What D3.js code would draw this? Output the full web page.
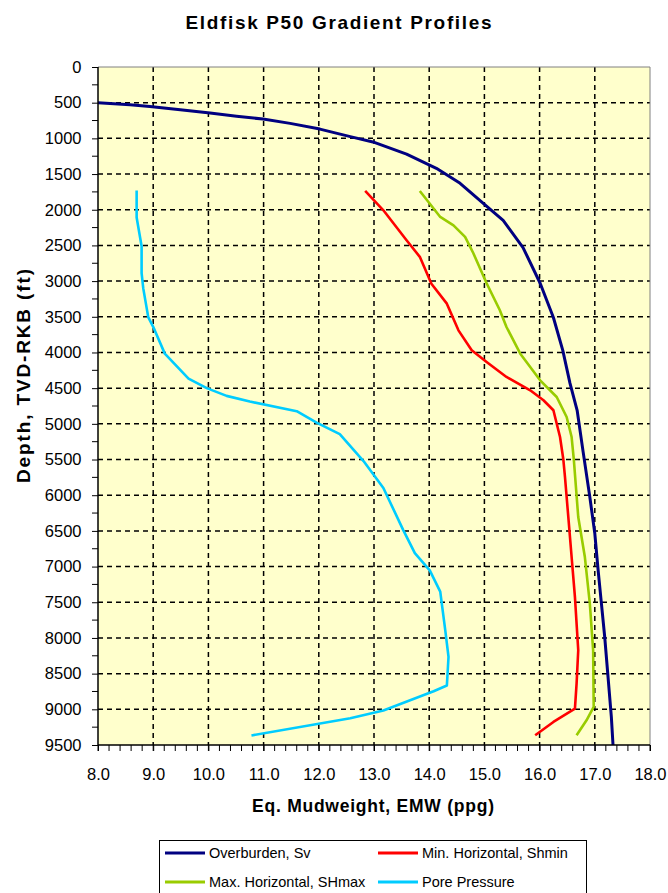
<!DOCTYPE html>
<html><head><meta charset="utf-8">
<script src="https://cdn.jsdelivr.net/npm/d3@7/dist/d3.min.js"></script>
<style>body{margin:0;background:#fff;}svg text{font-family:Arial,"Liberation Sans",sans-serif;}</style>
</head><body>
<svg id="c" width="668" height="893"></svg>
<script>
const title = "Eldfisk P50 Gradient Profiles";
const xTitle = "Eq. Mudweight, EMW (ppg)";
const yTitle = "Depth, TVD-RKB (ft)";
const xTicks = [8,9,10,11,12,13,14,15,16,17,18];
const yTicks = d3.range(0, 9501, 500);
const seriesNames = ["Overburden, Sv","Min. Horizontal, Shmin","Max. Horizontal, SHmax","Pore Pressure"];
const seriesColors = ["#000080","#FF0000","#99CC00","#00CCFF"];
// [EMW ppg, depth ft]
const overburden = [[8.0,500],[8.58,530],[8.94,555],[9.49,600],[10.03,645],[10.51,690],[10.99,730],[11.48,790],[12.02,870],[12.57,975],[12.98,1050],[13.59,1220],[14.13,1420],[14.56,1630],[14.98,1910],[15.34,2150],[15.70,2530],[16.01,3030],[16.25,3510],[16.42,3970],[16.55,4430],[16.68,4810],[16.79,5400],[16.91,6025],[17.00,6535],[17.06,7050],[17.12,7520],[17.18,7990],[17.24,8550],[17.30,9110],[17.33,9500]];
const shmin = [[12.84,1737],[13.17,2008],[13.59,2428],[13.83,2660],[14.04,3036],[14.32,3316],[14.53,3690],[14.77,3970],[15.04,4133],[15.40,4343],[15.83,4530],[16.07,4670],[16.25,4810],[16.37,5185],[16.43,5500],[16.46,5745],[16.52,6305],[16.58,6866],[16.64,7426],[16.70,8173],[16.67,8640],[16.64,8990],[16.25,9177],[15.92,9364]];
const shmax = [[13.83,1737],[14.20,2101],[14.44,2218],[14.65,2381],[14.80,2610],[15.04,3030],[15.28,3409],[15.40,3643],[15.65,4017],[16.01,4390],[16.31,4624],[16.49,4904],[16.58,5185],[16.62,5500],[16.70,6305],[16.82,6866],[16.91,7519],[16.97,8173],[16.98,8967],[16.85,9154],[16.67,9364]];
const pore = [[8.70,1731],[8.70,2108],[8.79,2511],[8.79,2887],[8.82,3102],[8.91,3505],[9.00,3640],[9.21,4016],[9.64,4366],[9.97,4500],[10.33,4608],[10.75,4688],[11.60,4823],[11.96,4984],[12.38,5145],[12.81,5522],[13.17,5898],[13.53,6489],[13.74,6812],[14.01,7054],[14.20,7350],[14.29,7887],[14.35,8264],[14.32,8667],[14.08,8747],[13.17,9016],[12.57,9124],[10.78,9366]];
const seriesData = [overburden, shmin, shmax, pore];
const seriesWidths = [3, 2.6, 2.6, 2.6];

const svg = d3.select("#c");
const L=98, R=650, T=67, B=745;
const x = d3.scaleLinear().domain([8,18]).range([L,R]);
const y = d3.scaleLinear().domain([0,9500]).range([T,B]);

svg.append("rect").attr("x",L).attr("y",T).attr("width",R-L).attr("height",B-T).attr("fill","#FFFFCC");
// grid
svg.append("g").selectAll("line").data(xTicks.slice(1,-1)).join("line")
  .attr("x1",d=>x(d)).attr("x2",d=>x(d)).attr("y1",T).attr("y2",B)
  .attr("stroke","#000").attr("stroke-width",1.5).attr("stroke-dasharray","5,4");
svg.append("g").selectAll("line").data(yTicks.slice(1,-1)).join("line")
  .attr("y1",d=>y(d)).attr("y2",d=>y(d)).attr("x1",L).attr("x2",R)
  .attr("stroke","#000").attr("stroke-width",1.5).attr("stroke-dasharray","5,4");
// plot border top/right
svg.append("path").attr("d",`M${L},${T}H${R}V${B}`).attr("fill","none").attr("stroke","#808080").attr("stroke-width",1);

// series
const line = d3.line().x(d=>x(d[0])).y(d=>y(d[1]));
svg.append("g").selectAll("path").data(seriesData).join("path")
  .attr("d",line).attr("fill","none").attr("stroke",(d,i)=>seriesColors[i]).attr("stroke-width",(d,i)=>seriesWidths[i]).attr("stroke-linejoin","round");

// axes
const xAxis = d3.axisBottom(x).tickValues(xTicks).tickFormat(d3.format(".1f")).tickSize(6).tickPadding(17);
const gx = svg.append("g").attr("transform",`translate(0,${B})`).call(xAxis);
gx.append("g").selectAll("line").data(d3.range(8,18.001,0.2)).join("line")
  .attr("x1",d=>x(d)).attr("x2",d=>x(d)).attr("y1",0).attr("y2",6).attr("stroke","#000");
const yAxis = d3.axisLeft(y).tickValues(yTicks).tickSize(6).tickPadding(10.5).tickFormat(d3.format("d"));
const gy = svg.append("g").attr("transform",`translate(${L},0)`).call(yAxis);
gy.append("g").selectAll("line").data(d3.range(250,9500,500)).join("line")
  .attr("y1",d=>y(d)).attr("y2",d=>y(d)).attr("x1",0).attr("x2",-6).attr("stroke","#000");
[gx,gy].forEach(g=>{
  g.select(".domain").attr("stroke","#000").attr("stroke-width",1.5);
  g.selectAll("text").attr("font-size",16.5).attr("fill","#000").attr("font-family","Arial, 'Liberation Sans', sans-serif");
});
gy.select(".domain").attr("d",`M0,${T}V${B}`);
gx.select(".domain").attr("d",`M${L},0H${R}`);

// titles
svg.append("text").attr("x",338.5).attr("y",29).attr("text-anchor","middle").attr("font-size",19).attr("font-weight","bold")
  .attr("textLength",306).attr("lengthAdjust","spacing").text(title);
svg.append("text").attr("x",373).attr("y",811.5).attr("text-anchor","middle").attr("font-size",17.5).attr("font-weight","bold")
  .attr("textLength",242).attr("lengthAdjust","spacing").text(xTitle);
svg.append("text").attr("transform",`translate(30,376) rotate(-90)`).attr("text-anchor","middle").attr("font-size",19).attr("font-weight","bold")
  .attr("textLength",214).attr("lengthAdjust","spacing").text(yTitle);

// legend
const lg = svg.append("g");
lg.append("rect").attr("x",159.5).attr("y",840.5).attr("width",427).attr("height",60).attr("fill","#fff").attr("stroke","#000").attr("stroke-width",1);
const pos = [[165,853],[378,853],[165,882],[378,882]];
seriesNames.forEach((n,i)=>{
  const [px,py]=pos[i];
  lg.append("line").attr("x1",px).attr("x2",px+40).attr("y1",py).attr("y2",py).attr("stroke",seriesColors[i]).attr("stroke-width",3);
  lg.append("text").attr("x",px+44).attr("y",py+5).attr("font-size",14.5).text(n);
});
</script>
</body></html>
